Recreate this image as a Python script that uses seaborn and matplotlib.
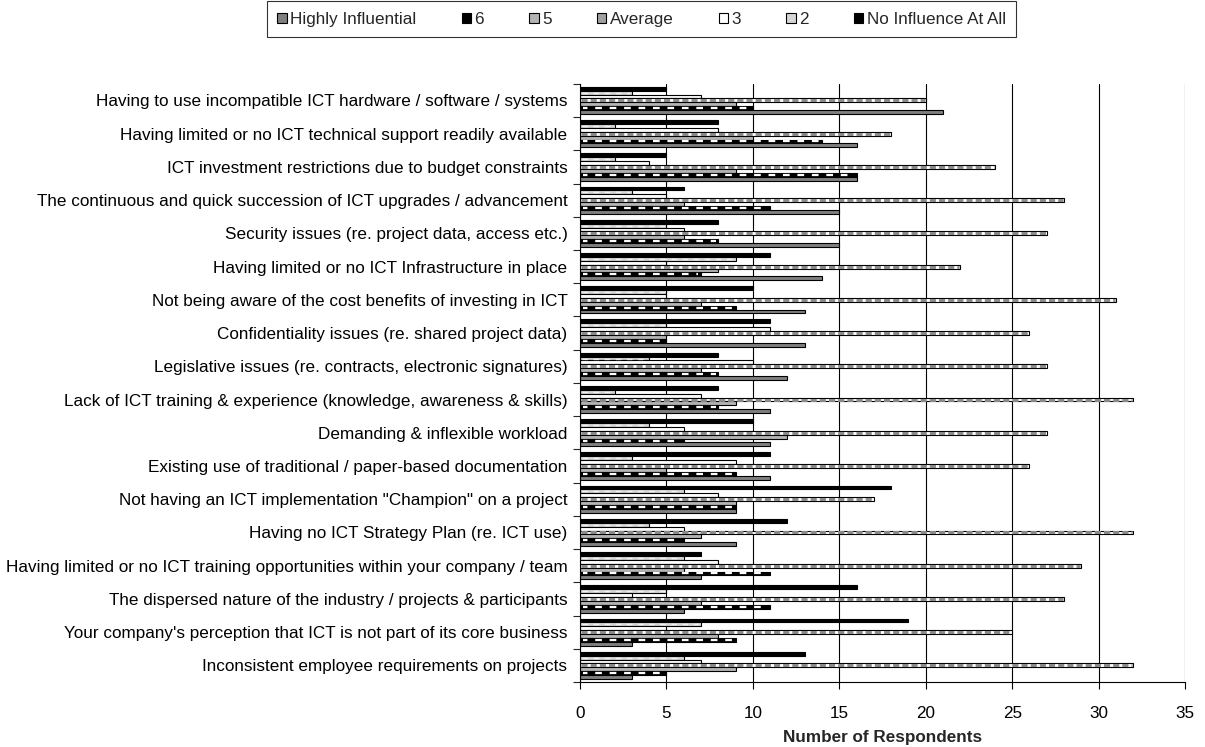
import matplotlib
matplotlib.use("Agg")
import matplotlib.pyplot as plt
import matplotlib.patches as mpatches
import numpy as np
import pandas as pd
import seaborn as sns

# Barriers to ICT use, ranked by respondents on a 7-point influence scale
barriers = [
    "Having to use incompatible ICT hardware / software / systems",
    "Having limited or no ICT technical support readily available",
    "ICT investment restrictions due to budget constraints",
    "The continuous and quick succession of ICT upgrades / advancement",
    "Security issues (re. project data, access etc.)",
    "Having limited or no ICT Infrastructure in place",
    "Not being aware of the cost benefits of investing in ICT",
    "Confidentiality issues (re. shared project data)",
    "Legislative issues (re. contracts, electronic signatures)",
    "Lack of ICT training & experience (knowledge, awareness & skills)",
    "Demanding & inflexible workload",
    "Existing use of traditional / paper-based documentation",
    "Not having an ICT implementation \"Champion\" on a project",
    "Having no ICT Strategy Plan (re. ICT use)",
    "Having limited or no ICT training opportunities within your company / team",
    "The dispersed nature of the industry / projects & participants",
    "Your company's perception that ICT is not part of its core business",
    "Inconsistent employee requirements on projects",
]

no_influence = [5, 8, 5, 6, 8, 11, 10, 11, 8, 8, 10, 11, 18, 12, 7, 16, 19, 13]
level_2      = [3, 2, 2, 3, 5, 9, 5, 5, 4, 2, 4, 3, 6, 4, 6, 5, 7, 6]
level_3      = [7, 8, 4, 5, 6, 5, 5, 11, 10, 7, 6, 9, 8, 6, 8, 3, 5, 7]
average      = [20, 18, 24, 28, 27, 22, 31, 26, 27, 32, 27, 26, 17, 32, 29, 28, 25, 32]
level_5      = [9, 10, 9, 6, 6, 8, 7, 5, 7, 9, 12, 5, 9, 7, 6, 7, 8, 9]
level_6      = [10, 14, 16, 11, 8, 7, 9, 5, 8, 8, 6, 9, 9, 6, 11, 11, 9, 5]
highly       = [21, 16, 16, 15, 15, 14, 13, 13, 12, 11, 11, 11, 9, 9, 7, 6, 3, 3]

levels = ["No Influence At All", "2", "3", "Average", "5", "6", "Highly Influential"]
series = [no_influence, level_2, level_3, average, level_5, level_6, highly]
x_ticks = [0, 5, 10, 15, 20, 25, 30, 35]

df = pd.DataFrame({
    "Barrier": np.tile(barriers, len(levels)),
    "Level": np.repeat(levels, len(barriers)),
    "Respondents": np.concatenate(series),
})

face = {
    "No Influence At All": "#000000",
    "2": "#d6d6d6",
    "3": "#ffffff",
    "Average": "#ffffff",
    "5": "#b4b4b4",
    "6": "#000000",
    "Highly Influential": "#808080",
}
legend_face = dict(face, Average="#a0a0a0")

FS = 12.3

sns.set_style("white")
plt.rcParams["font.family"] = ["Liberation Sans", "DejaVu Sans"]

fig = plt.figure(figsize=(12.05, 7.47), dpi=100)
ax = fig.add_axes([0.4813, 0.0870, 0.5021, 0.8008])

sns.barplot(
    data=df, y="Barrier", x="Respondents", hue="Level",
    order=barriers, hue_order=levels, palette=face,
    orient="h", width=0.82, gap=0, errorbar=None, legend=False,
    edgecolor="black", linewidth=0.8, saturation=1, ax=ax,
)

# Patterned series: dashes drawn along the middle of each bar
for level, cont in zip(levels, ax.containers):
    for p in cont.patches:
        yc = p.get_y() + p.get_height() / 2
        x0, x1 = p.get_x(), p.get_x() + p.get_width()
        if level == "6":
            ax.plot([x0 + 0.15, x1 - 0.15], [yc, yc], color="white",
                    lw=1.6, ls=(1, (3, 3.5)), solid_capstyle="butt", zorder=3)
        elif level == "Average":
            ax.plot([x0 + 0.05, x1 - 0.05], [yc, yc], color="#8a8a8a",
                    lw=2.2, ls=(0, (2, 1)), solid_capstyle="butt", zorder=3)
        elif level == "2":
            ax.plot([x0 + 0.1, x1 - 0.1], [yc, yc], color="white",
                    lw=1.0, ls=(0, (4, 4)), solid_capstyle="butt", zorder=3, alpha=0.7)

ax.set_xlim(x_ticks[0], x_ticks[-1])
ax.set_xticks(x_ticks)
ax.xaxis.grid(True, color="black", lw=0.8)
ax.yaxis.grid(False)
ax.set_axisbelow(True)

n = len(barriers)
ax.set_ylim(n - 0.5, -0.5)
ax.set_yticks(np.arange(n))
ax.set_yticks(np.arange(n + 1) - 0.5, minor=True)
ax.tick_params(axis="y", which="major", length=0, pad=9, labelsize=FS, colors="black")
ax.tick_params(axis="y", which="minor", length=5, width=0.8, direction="out", left=True)
ax.tick_params(axis="x", which="major", length=5, width=0.8, direction="out",
               bottom=True, labelsize=FS, pad=12, colors="black")

for side in ("top", "right"):
    ax.spines[side].set_visible(False)
for side in ("left", "bottom"):
    ax.spines[side].set_color("black")
    ax.spines[side].set_linewidth(0.8)

ax.set_ylabel("")
ax.set_xlabel("Number of Respondents", fontsize=FS, fontweight="bold", labelpad=7)

# Legend in reverse order of the scale, from most to least influential
handles = [mpatches.Patch(facecolor=legend_face[lv], edgecolor="black",
                          linewidth=0.8, label=lv) for lv in reversed(levels)]
leg = fig.legend(handles=handles, loc="upper center", bbox_to_anchor=(0.5324, 0.998),
                 ncol=7, frameon=True, fancybox=False, edgecolor="black",
                 fontsize=FS, handlelength=0.55, handleheight=0.55, handletextpad=0.2,
                 columnspacing=2.65, borderpad=0.6, borderaxespad=0)
leg.get_frame().set_linewidth(0.8)

fig.savefig("out.png", dpi=100)
